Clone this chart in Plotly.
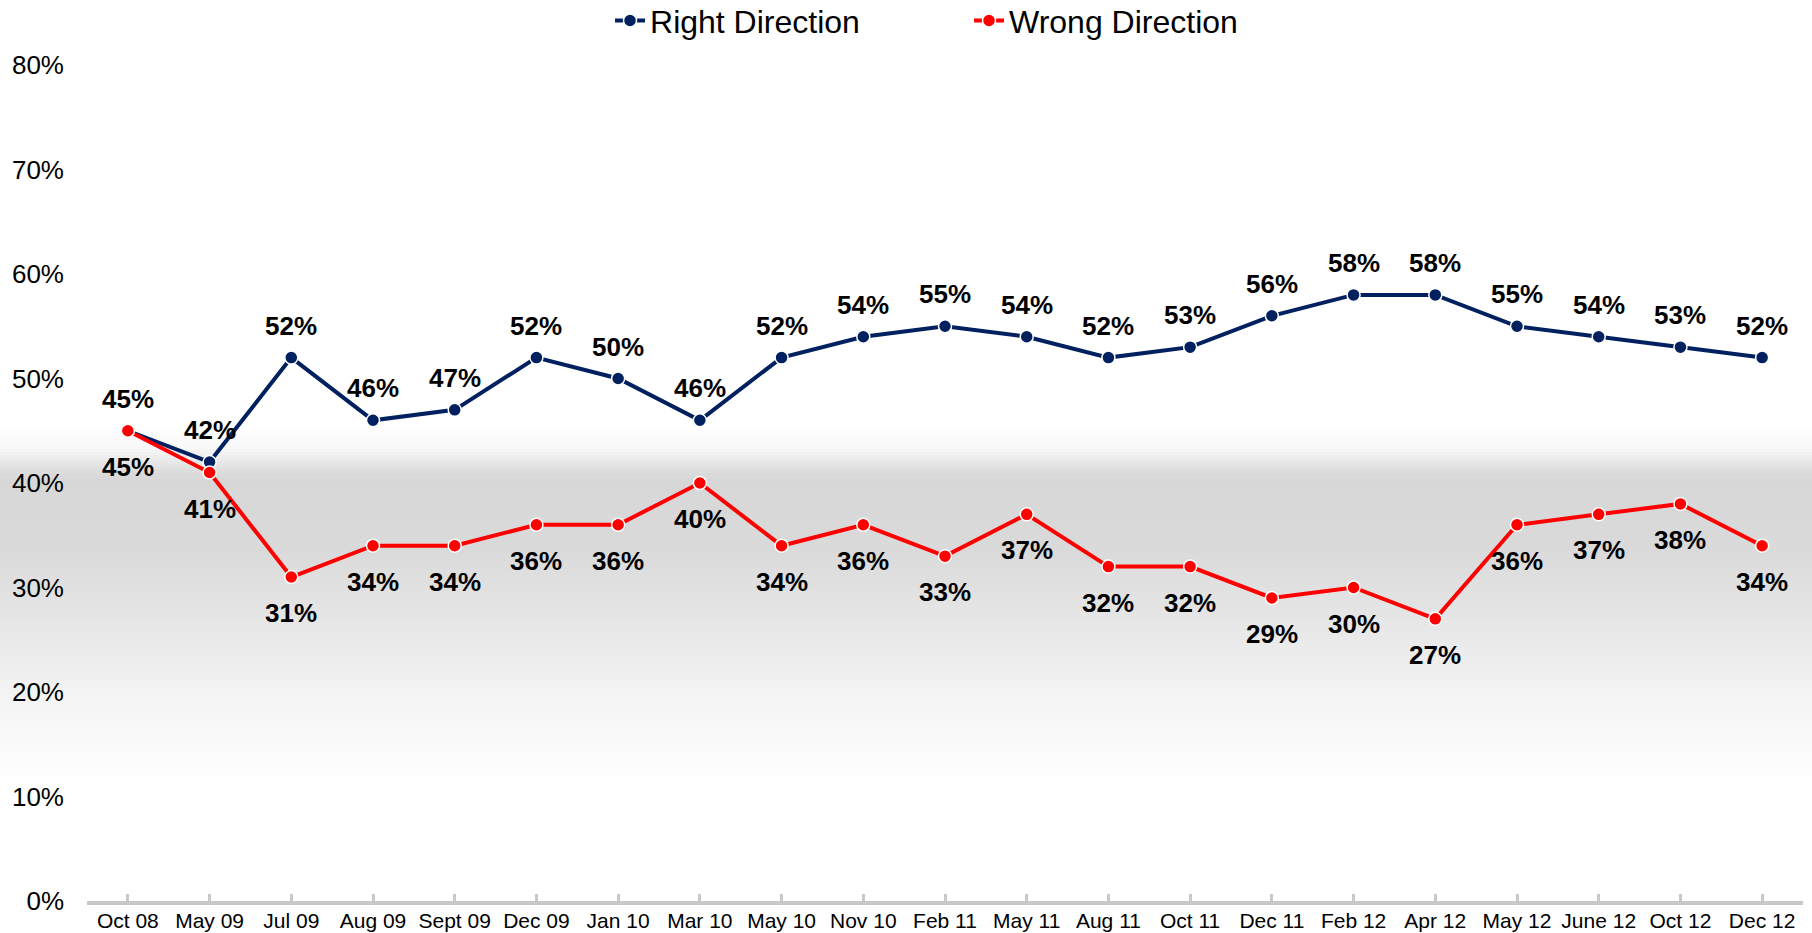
import plotly.graph_objects as go

categories = ["Oct 08", "May 09", "Jul 09", "Aug 09", "Sept 09", "Dec 09", "Jan 10", "Mar 10",
              "May 10", "Nov 10", "Feb 11", "May 11", "Aug 11", "Oct 11", "Dec 11", "Feb 12",
              "Apr 12", "May 12", "June 12", "Oct 12", "Dec 12"]
right_direction = [45, 42, 52, 46, 47, 52, 50, 46, 52, 54, 55, 54, 52, 53, 56, 58, 58, 55, 54, 53, 52]
wrong_direction = [45, 41, 31, 34, 34, 36, 36, 40, 34, 36, 33, 37, 32, 32, 29, 30, 27, 36, 37, 38, 34]
y_ticks = [0, 10, 20, 30, 40, 50, 60, 70, 80]

NAVY = "#002060"
RED = "#FF0000"
FONT = "Liberation Sans, Arial, sans-serif"

fig = go.Figure()
fig.add_trace(go.Scatter(x=categories, y=right_direction, name="Right Direction", mode="lines+markers",
                         line=dict(color=NAVY, width=4),
                         marker=dict(size=13, color=NAVY, line=dict(color="white", width=1.5))))
fig.add_trace(go.Scatter(x=categories, y=wrong_direction, name="Wrong Direction", mode="lines+markers",
                         line=dict(color=RED, width=4),
                         marker=dict(size=13, color=RED, line=dict(color="white", width=1.5))))

annotations = []
for c, v in zip(categories, right_direction):
    annotations.append(dict(x=c, y=v, text=f"{v}%", showarrow=False, yshift=32,
                            font=dict(family=FONT, size=26, color="black", weight="bold")))
for c, v in zip(categories, wrong_direction):
    annotations.append(dict(x=c, y=v, text=f"{v}%", showarrow=False, yshift=-36,
                            font=dict(family=FONT, size=26, color="black", weight="bold")))

# background gradient band (page pixels -> paper fractions)
TOP, BOT = 65, 901
stops = [(428, 255), (448, 248), (472, 220), (480, 215), (550, 218), (630, 232),
         (710, 246), (770, 253), (800, 255)]
def gray_at(y):
    for (y0, g0), (y1, g1) in zip(stops[:-1], stops[1:]):
        if y0 <= y <= y1:
            return g0 + (g1 - g0) * (y - y0) / (y1 - y0)
    return 255
shapes = []
step = 3
for ypx in range(stops[0][0], stops[-1][0], step):
    g = int(round(gray_at(ypx + step / 2)))
    shapes.append(dict(type="rect", xref="paper", yref="paper", layer="below",
                       x0=-0.06, x1=1.01,
                       y0=(BOT - ypx - step - 0.5) / (BOT - TOP), y1=(BOT - ypx) / (BOT - TOP),
                       fillcolor=f"rgb({g},{g},{g})", line=dict(width=0)))

fig.update_layout(
    width=1812, height=933,
    margin=dict(l=87, r=9, t=65, b=32, autoexpand=False),
    paper_bgcolor="white", plot_bgcolor="rgba(0,0,0,0)",
    font=dict(family=FONT, color="black"),
    showlegend=True,
    legend=dict(orientation="h", x=0.514, xanchor="center", y=1.053, yanchor="middle",
                font=dict(family=FONT, size=32), entrywidth=314, entrywidthmode="pixels",
                bgcolor="rgba(0,0,0,0)"),
    annotations=annotations,
    shapes=shapes,
)
fig.update_xaxes(type="category", range=[-0.5, 20.5], showgrid=False, zeroline=False,
                 showline=True, linecolor="#C8C8C8", linewidth=4, automargin=False,
                 ticks="inside", ticklen=7, tickwidth=3, tickcolor="#C8C8C8",
                 ticklabelstandoff=-2,
                 tickfont=dict(family=FONT, size=21, color="black"))
fig.update_yaxes(range=[0, 80], tickvals=y_ticks, ticktext=[f"{t}%" for t in y_ticks],
                 showgrid=False, zeroline=False, showline=False, ticks="", automargin=False,
                 ticklabelstandoff=22,
                 tickfont=dict(family=FONT, size=26, color="black"))

fig.write_html("out.html", config={"displayModeBar": False},
               post_script="document.body.style.margin='0';document.body.style.overflow='hidden';")
